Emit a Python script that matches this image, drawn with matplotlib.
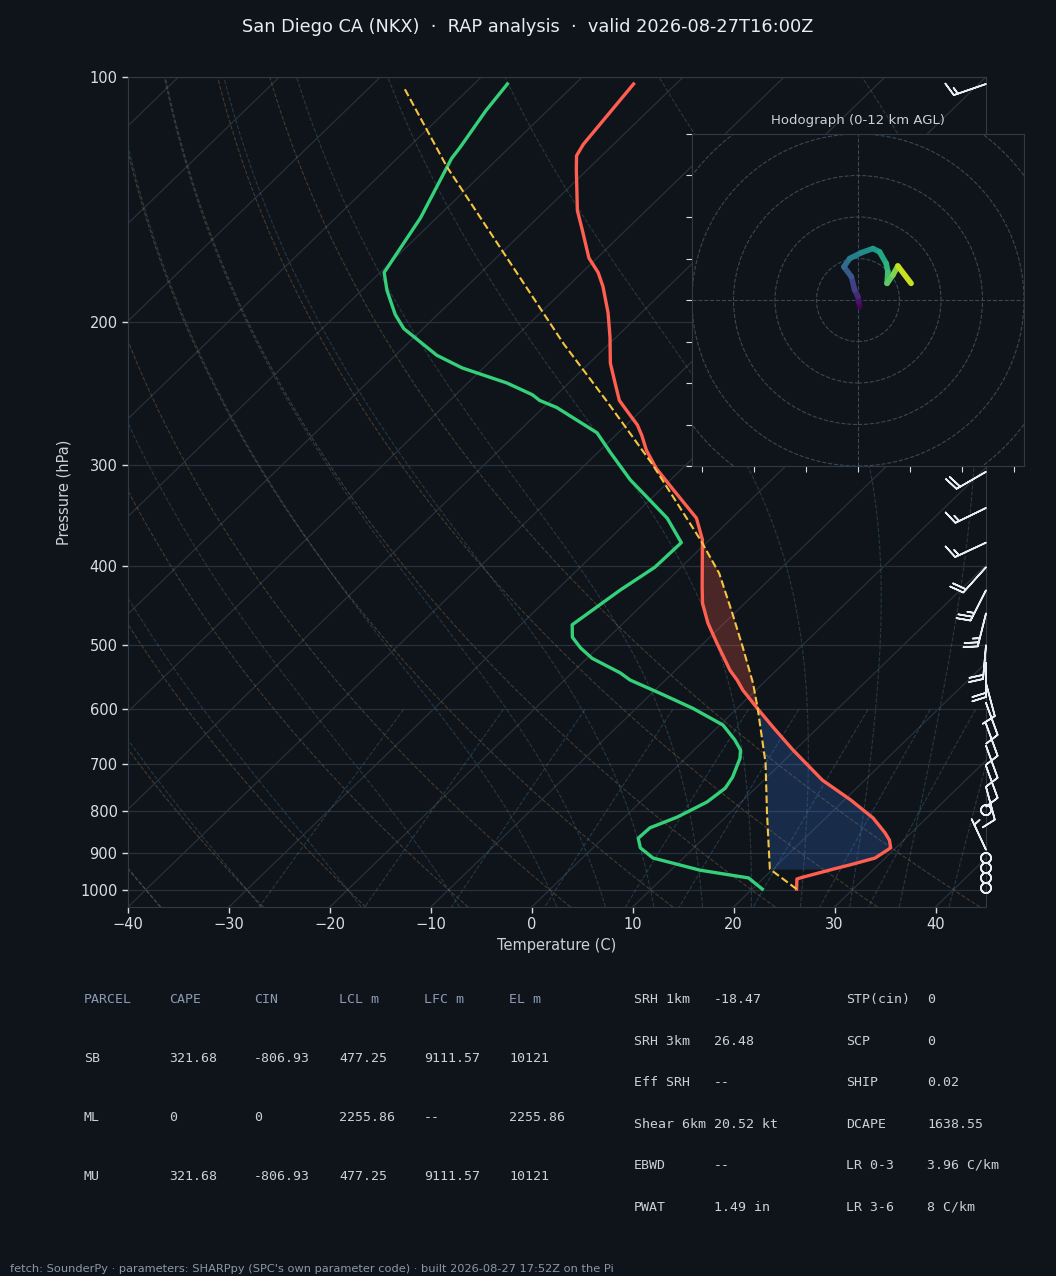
import numpy as np
import matplotlib
matplotlib.use('Agg')
import matplotlib.pyplot as plt
from matplotlib.collections import LineCollection
from matplotlib.patches import Circle
from matplotlib.transforms import blended_transform_factory
from matplotlib.ticker import NullLocator, FixedLocator

# ---------------- data ----------------
TITLE = "San Diego CA (NKX)  ·  RAP analysis  ·  valid 2026-08-27T16:00Z"
FOOTER = ("fetch: SounderPy · parameters: SHARPpy (SPC's own parameter code) · "
          "built 2026-08-27 17:52Z on the Pi")

# environmental temperature (hPa, degC)
p_temp = [998, 970, 966, 943, 932, 914, 888, 869, 851, 816, 775, 733, 673, 631,
          599, 568, 552, 537, 497, 470, 444, 424, 371, 349, 322, 303, 288, 276,
          268, 257, 250, 238, 225, 209, 195, 181, 174, 167, 154, 146, 130, 125,
          121, 102]
temp = [24.4, 23.4, 23.7, 26.0, 27.2, 29.0, 29.5, 28.6, 27.4, 24.7, 20.6, 15.8,
        9.8, 5.5, 2.1, -1.3, -2.9, -4.6, -8.7, -11.6, -14.2, -15.9, -20.7, -23.5,
        -28.7, -32.6, -35.4, -37.4, -38.9, -41.5, -43.2, -45.4, -47.9, -50.6,
        -53.3, -56.5, -58.4, -60.8, -64.4, -66.8, -71.1, -72.5, -73.0, -74.2]

# dewpoint (hPa, degC)
p_dewp = [998, 967, 946, 914, 888, 864, 839, 814, 780, 750, 727, 689, 673, 654,
          627, 598, 573, 552, 541, 519, 504, 489, 472, 428, 401, 374, 349, 313,
          290, 274, 255, 250, 246, 238, 228, 220, 204, 196, 183, 174, 149, 126,
          122, 110, 102]
dewp = [21.0, 18.5, 12.9, 7.0, 4.7, 3.5, 3.6, 5.2, 6.6, 7.0, 6.6, 5.4, 4.6, 3.0,
        0.3, -4.4, -9.2, -13.5, -15.2, -19.5, -21.7, -23.6, -24.9, -23.7, -22.6,
        -22.5, -26.4, -34.0, -38.7, -42.1, -48.7, -51.1, -52.4, -56.1, -62.1,
        -65.9, -71.9, -74.2, -77.5, -79.6, -81.6, -84.6, -84.9, -86.1, -86.7]

# surface-based parcel path (hPa, degC)
p_parcel = [998, 943, 805, 698, 599, 557, 503, 457, 408, 371, 299, 250, 213, 129, 103]
t_parcel = [24.4, 19.7, 13.7, 8.4, 2.1, -1.0, -5.7, -10.2, -15.6, -20.9, -33.5,
            -44.5, -54.5, -84.2, -96.6]

P_LCL, P_LFC, P_EL = 943, 599, 371

# wind barbs (hPa, direction deg, speed kt)
barb_p = [102, 306, 339, 374, 401, 428, 457, 500, 526, 557, 589, 625, 665, 704,
          747, 798, 893, 914, 940, 967, 995]
barb_dir = [251, 240, 244, 245, 222, 207, 194, 185, 180, 165, 160, 160, 160, 160,
            165, 0, 335, 0, 0, 0, 0]
barb_spd = [15, 20, 15, 15, 20, 25, 25, 20, 20, 10, 10, 10, 10, 10, 10, 0, 5,
            0, 0, 0, 0]

# hodograph (u, v, height km)
hodo_u = [0.4, 0.2, 0.0, -0.8, -1.6, -3.4, -2.0, 0.8, 3.6, 5.2, 6.8, 7.2, 7.0, 8.4, 9.6, 12.8]
hodo_v = [-1.6, -0.5, 0.8, 2.4, 5.6, 8.0, 10.0, 11.4, 12.4, 11.6, 8.8, 6.8, 4.0, 6.0, 8.2, 4.0]
hodo_z = [0.0, 0.3, 1.0, 1.8, 2.8, 3.8, 4.6, 5.4, 6.2, 6.8, 7.5, 8.0, 8.6, 9.4, 10.0, 12.0]

# parameter tables
parcel_header = ["PARCEL", "CAPE", "CIN", "LCL m", "LFC m", "EL m"]
parcel_rows = [["SB", "321.68", "-806.93", "477.25", "9111.57", "10121"],
               ["ML", "0", "0", "2255.86", "--", "2255.86"],
               ["MU", "321.68", "-806.93", "477.25", "9111.57", "10121"]]
param_left = [("SRH 1km", "-18.47"), ("SRH 3km", "26.48"), ("Eff SRH", "--"),
              ("Shear 6km", "20.52 kt"), ("EBWD", "--"), ("PWAT", "1.49 in")]
param_right = [("STP(cin)", "0"), ("SCP", "0"), ("SHIP", "0.02"),
               ("DCAPE", "1638.55"), ("LR 0-3", "3.96 C/km"), ("LR 3-6", "8 C/km")]

# ---------------- style ----------------
BG = '#0f141a'
FG = '#c9d1d9'
TICKC = '#d9dee4'
SPINE = '#2f3a47'
GRIDC = '#27313c'
RED = '#ff5f50'
GREEN = '#34d07a'
YELLOW = '#f5c542'

W, H = 1056, 1276
fig = plt.figure(figsize=(W / 100, H / 100), dpi=100, facecolor=BG)

def fx(px):
    return px / W

def fy(py):
    return 1 - py / H

P_BOT, P_TOP = 1050.0, 100.0
X_MIN, X_MAX = -40.0, 45.0

ax = fig.add_axes([fx(128), fy(907), fx(986) - fx(128), fy(77) - fy(907)])
ax.set_facecolor(BG)
ax.set_yscale('log')
ax.set_ylim(P_BOT, P_TOP)
ax.set_xlim(X_MIN, X_MAX)

def skx(t, p):
    p = np.asarray(p, float)
    return np.asarray(t, float) + (X_MAX - X_MIN) * np.log(P_BOT / p) / np.log(P_BOT / P_TOP)

def interp_logp(pnew, p, v):
    return np.interp(-np.log(pnew), -np.log(np.asarray(p, float)), np.asarray(v, float))

pp = np.geomspace(P_BOT, P_TOP, 120)

# isotherms
for t0 in np.arange(-140, 50, 10):
    ax.plot(skx([t0, t0], [P_BOT, P_TOP]), [P_BOT, P_TOP], color=GRIDC, lw=0.9, zorder=1)
# isobars
for pl in range(100, 1001, 100):
    ax.axhline(pl, color=GRIDC, lw=0.9, zorder=1)

# dry adiabats
for t0 in np.arange(-40, 41, 10):
    tt = (t0 + 273.15) * (pp / 1000.0) ** 0.2857 - 273.15
    ax.plot(skx(tt, pp), pp, color='#b08850', alpha=0.33, lw=0.8, ls='--', zorder=1)

# moist adiabats
Rd, Cp, Lv, eps = 287.04, 1005.7, 2.501e6, 0.622
def dT_dlnp(T, p):
    es = 6.112 * np.exp(17.67 * (T - 273.15) / (T - 29.65))
    rs = eps * es / (p - es)
    return (Rd * T + Lv * rs) / (Cp + Lv * Lv * rs * eps / (Rd * T * T))

def integrate(T0, p_from, p_to, n=200):
    lnp = np.linspace(np.log(p_from), np.log(p_to), n)
    T = np.array(T0, float)
    out = [T.copy()]
    for i in range(n - 1):
        h = lnp[i + 1] - lnp[i]
        p0 = np.exp(lnp[i]); pm = np.exp(lnp[i] + h / 2); p1 = np.exp(lnp[i + 1])
        k1 = dT_dlnp(T, p0)
        k2 = dT_dlnp(T + h / 2 * k1, pm)
        k3 = dT_dlnp(T + h / 2 * k2, pm)
        k4 = dT_dlnp(T + h * k3, p1)
        T = T + h / 6 * (k1 + 2 * k2 + 2 * k3 + k4)
        out.append(T.copy())
    return np.exp(lnp), np.array(out)

moist_t0 = np.concatenate((np.arange(-40, 0, 10), np.arange(0, 46, 5))) + 273.15
p_up, T_up = integrate(moist_t0, 1000.0, P_TOP)
p_dn, T_dn = integrate(moist_t0, 1000.0, P_BOT, n=20)
p_m = np.concatenate((p_dn[::-1], p_up[1:]))
T_m = np.concatenate((T_dn[::-1], T_up[1:]))
for j in range(len(moist_t0)):
    ax.plot(skx(T_m[:, j] - 273.15, p_m), p_m, color='#5a8aa0', alpha=0.3,
            lw=0.8, ls='--', zorder=1)

# mixing ratio lines
p_mix = np.linspace(600, P_BOT, 40)
for w in [0.0004, 0.001, 0.002, 0.004, 0.007, 0.01, 0.016, 0.024, 0.032]:
    e = p_mix * w / (eps + w)
    td = 243.5 * np.log(e / 6.112) / (17.67 - np.log(e / 6.112))
    ax.plot(skx(td, p_mix), p_mix, color='#4a90b8', alpha=0.3, lw=0.8, ls='--', zorder=1)

# CIN / CAPE shading
pc = np.geomspace(P_LCL, P_LFC, 80)
ax.fill_betweenx(pc, skx(interp_logp(pc, p_parcel, t_parcel), pc),
                 skx(interp_logp(pc, p_temp, temp), pc),
                 color='#3b82f6', alpha=0.22, lw=0, zorder=2)
pa = np.geomspace(P_LFC, P_EL, 80)
ax.fill_betweenx(pa, skx(interp_logp(pa, p_parcel, t_parcel), pa),
                 skx(interp_logp(pa, p_temp, temp), pa),
                 color=RED, alpha=0.25, lw=0, zorder=2)

# profiles
ax.plot(skx(temp, p_temp), p_temp, color=RED, lw=2.4, zorder=4)
ax.plot(skx(dewp, p_dewp), p_dewp, color=GREEN, lw=2.4, zorder=4)
ax.plot(skx(t_parcel, p_parcel), p_parcel, color=YELLOW, lw=1.5, ls='--', zorder=4)

# barbs
bd = np.deg2rad(barb_dir)
bs = np.asarray(barb_spd, float)
bu = -bs * np.sin(bd)
bv = -bs * np.cos(bd)
trans = blended_transform_factory(ax.transAxes, ax.transData)
ax.barbs(np.ones(len(barb_p)), barb_p, bu, bv, transform=trans, clip_on=False,
         color='#e6edf3', length=7, lw=1.2, zorder=5)

# axes styling
ax.yaxis.set_major_locator(FixedLocator(list(range(100, 1001, 100))))
ax.yaxis.set_minor_locator(NullLocator())
ax.set_yticklabels([str(v) for v in range(100, 1001, 100)])
ax.set_xticks(np.arange(-40, 41, 10))
ax.tick_params(colors=TICKC, labelsize=10.5, length=4, width=1)
for s in ax.spines.values():
    s.set_color(SPINE)
ax.set_xlabel('Temperature (C)', color=FG, fontsize=10.5)
ax.set_ylabel('Pressure (hPa)', color=FG, fontsize=10.5, labelpad=6)

# hodograph
hax = fig.add_axes([fx(692), fy(466), fx(1024) - fx(692), fy(134) - fy(466)])
hax.set_facecolor(BG)
hax.set_xlim(-40, 40)
hax.set_ylim(-40, 40)
hax.set_aspect('equal', adjustable='box')
for r in range(10, 60, 10):
    hax.add_patch(Circle((0, 0), r, fill=False, color='#3a4757', lw=0.8, ls='--', zorder=1))
hax.axhline(0, color='#3a4757', lw=0.8, ls='--', zorder=1)
hax.axvline(0, color='#3a4757', lw=0.8, ls='--', zorder=1)
pts = np.column_stack([hodo_u, hodo_v]).reshape(-1, 1, 2)
segs = np.concatenate([pts[:-1], pts[1:]], axis=1)
zmid = 0.5 * (np.asarray(hodo_z[:-1]) + np.asarray(hodo_z[1:]))
lc = LineCollection(segs, cmap='viridis', norm=plt.Normalize(0, 12), lw=4,
                    capstyle='round', joinstyle='round', zorder=3)
lc.set_array(zmid)
hax.add_collection(lc)
hax.set_xticks(np.arange(-37.5, 40, 12.5))
hax.set_yticks(np.arange(-40, 41, 10))
hax.tick_params(colors=TICKC, labelbottom=False, labelleft=False, length=4)
for s in hax.spines.values():
    s.set_color(SPINE)
hax.set_title('Hodograph (0-12 km AGL)', color=FG, fontsize=9.5, pad=7)

# title & footer
fig.text(0.5, fy(27), TITLE, ha='center', va='center', color='#e6edf3', fontsize=12.8)
fig.text(fx(10), fy(1269), FOOTER, ha='left', va='center', color='#8b98a5', fontsize=8.2)

# tables
MONO = 'DejaVu Sans Mono'
VA = 'baseline'
OFF = 4
col_x = [84, 169, 254, 339, 424, 509]
row_y = [999, 1058, 1117, 1176]
for cx, h in zip(col_x, parcel_header):
    fig.text(fx(cx), fy(row_y[0] + OFF), h, family=MONO, fontsize=9.5, color='#8b9bb4', va=VA)
for ry, row in zip(row_y[1:], parcel_rows):
    for cx, v in zip(col_x, row):
        fig.text(fx(cx), fy(ry + OFF), v, family=MONO, fontsize=9.5, color=FG, va=VA)

prow_y = [999, 1041, 1082, 1124, 1165, 1207]
for ry, (l1, v1), (l2, v2) in zip(prow_y, param_left, param_right):
    fig.text(fx(634), fy(ry + OFF), l1, family=MONO, fontsize=9.5, color=FG, va=VA)
    fig.text(fx(714), fy(ry + OFF), v1, family=MONO, fontsize=9.5, color=FG, va=VA)
    fig.text(fx(846), fy(ry + OFF), l2, family=MONO, fontsize=9.5, color=FG, va=VA)
    fig.text(fx(927), fy(ry + OFF), v2, family=MONO, fontsize=9.5, color=FG, va=VA)

fig.savefig('out.png', dpi=100, facecolor=BG)
